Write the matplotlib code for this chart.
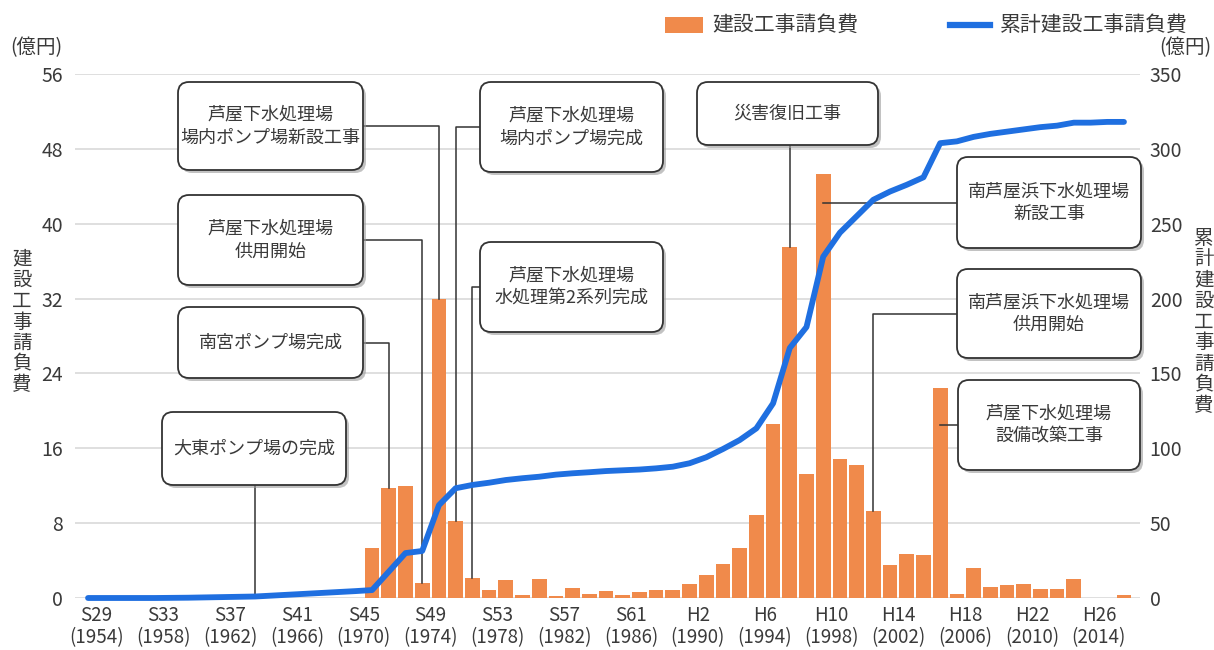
import matplotlib.pyplot as plt
from matplotlib.patches import FancyBboxPatch, Rectangle
from matplotlib.lines import Line2D
from matplotlib.transforms import IdentityTransform

plt.rcParams['font.family'] = ['Noto Sans CJK JP', 'DejaVu Sans']

# 年度 (S28=1953 〜 H27=2015)
years = list(range(1953, 2016))

# 建設工事請負費 (億円)
spend = [0, 0, 0, 0, 0, 0, 0, 0, 0, 0, 0, 0, 0, 0, 0, 0, 0,
         5.3, 11.8, 12.0, 1.6, 32.0, 8.2, 2.1, 0.9, 1.9, 0.35,
         2.0, 0.25, 1.1, 0.45, 0.75, 0.35, 0.6, 0.9, 0.9, 1.5,
         2.5, 3.6, 5.3, 8.9, 18.6, 37.5, 13.3, 45.3, 14.9, 14.2,
         9.3, 3.5, 4.7, 4.6, 22.4, 0.45, 3.2, 1.2, 1.4, 1.5,
         1.0, 1.0, 2.0, 0, 0, 0.35]

# 累計建設工事請負費 (億円)
cumulative = [0, 0, 0, 0, 0, 0.1, 0.2, 0.4, 0.6, 0.8, 1.0, 1.6, 2.2, 2.8, 3.4, 4.0, 4.6,
              5.3, 17.6, 30.0, 31.4, 62.0, 73.3, 75.5, 77.0, 78.8, 80.0,
              81.0, 82.4, 83.3, 84.0, 84.8, 85.3, 85.8, 86.6, 87.7, 90.0,
              94.0, 99.5, 105.5, 113.3, 130.0, 167.0, 181.0, 228.0, 244.0, 255.0,
              266.0, 271.5, 276.0, 281.0, 303.8, 305.0, 308.0, 310.0, 311.5, 313.0,
              314.5, 315.5, 317.5, 317.5, 318.0, 318.0]

tick_years = list(range(1954, 2015, 4))
tick_labels = ['S29\n(1954)', 'S33\n(1958)', 'S37\n(1962)', 'S41\n(1966)',
               'S45\n(1970)', 'S49\n(1974)', 'S53\n(1978)', 'S57\n(1982)',
               'S61\n(1986)', 'H2\n(1990)', 'H6\n(1994)', 'H10\n(1998)',
               'H14\n(2002)', 'H18\n(2006)', 'H22\n(2010)', 'H26\n(2014)']

# 出来事 (テキスト, 年度, 対象)
note_texts = ['芦屋下水処理場\n場内ポンプ場新設工事', '芦屋下水処理場\n供用開始', '南宮ポンプ場完成',
              '芦屋下水処理場\n場内ポンプ場完成', '芦屋下水処理場\n水処理第2系列完成', '大東ポンプ場の完成',
              '災害復旧工事', '南芦屋浜下水処理場\n新設工事', '南芦屋浜下水処理場\n供用開始',
              '芦屋下水処理場\n設備改築工事']
note_years = [1974, 1973, 1971, 1975, 1976, 1963, 1995, 1997, 2000, 2004]
note_target = ['bar', 'bar', 'bar', 'bar', 'bar', 'line', 'bar', 'barside', 'bar', 'barside']

# 吹き出しの位置 (画像ピクセル: 左, 上, 右, 下) と引出線の出る辺
box_pos = [(178, 82, 363, 170), (178, 195, 363, 285), (178, 307, 363, 378),
           (480, 82, 663, 172), (480, 242, 663, 332), (162, 412, 346, 485),
           (697, 82, 878, 145), (957, 157, 1141, 248), (957, 269, 1141, 358),
           (958, 380, 1140, 470)]
box_exit = ['right', 'right', 'right', 'left', 'left', 'bottom', 'bottom', 'left', 'left', 'left']

W, H = 1214, 650
bar_color = '#f08a4b'
line_color = '#1f6fe0'
text_color = '#3a3a3a'

fig = plt.figure(figsize=(W / 100, H / 100), dpi=100)
ax = fig.add_axes([75 / W, 1 - 598 / H, 1065 / W, 524 / H])
ax.bar(years, spend, width=0.88, color=bar_color, zorder=2)
ax.set_xlim(1952.22, 2015.96)
ax.set_ylim(0, 56)
ax.set_yticks(range(0, 57, 8))
ax.set_xticks([y - 0.5 for y in tick_years])
ax.set_xticklabels(tick_labels, linespacing=1.05)
ax.grid(axis='y', color='#dcdcdc', lw=1.3)
ax.set_axisbelow(True)
ax.tick_params(axis='y', length=0, pad=8.5, labelsize=14, labelcolor=text_color)
ax.tick_params(axis='x', length=0, pad=5, labelsize=13.5, labelcolor=text_color)
for s in ax.spines.values():
    s.set_visible(False)

ax2 = ax.twinx()
ax2.plot(years, cumulative, color=line_color, lw=4.2, solid_capstyle='round', zorder=3, clip_on=False)
ax2.set_ylim(0, 350)
ax2.set_yticks(range(0, 351, 50))
ax2.tick_params(axis='y', length=0, pad=7, labelsize=14, labelcolor=text_color)
for s in ax2.spines.values():
    s.set_visible(False)

ident = IdentityTransform()


def px(x, y):
    # 上から測ったピクセル -> 表示座標
    return x, H - y


def data_px(axis, x, y):
    d = axis.transData.transform((x, y))
    return d[0], H - d[1]


# 引出線
for i, yr in enumerate(note_years):
    x0, y0, x1, y1 = box_pos[i]
    idx = years.index(yr)
    if note_target[i] == 'line':
        tx, ty = data_px(ax2, yr, cumulative[idx])
    else:
        tx, ty = data_px(ax, yr, spend[idx])
    if box_exit[i] == 'bottom':
        pts = [(tx, y1), (tx, ty)]
    else:
        ey = (y0 + y1) / 2
        ex = x1 if box_exit[i] == 'right' else x0
        if note_target[i] == 'barside':
            pts = [(ex, ey), (tx, ey)]
        else:
            pts = [(ex, ey), (tx, ey), (tx, ty)]
    xs = [p[0] for p in pts]
    ys = [H - p[1] for p in pts]
    ax.add_line(Line2D(xs, ys, transform=ident, color='#333333', lw=1.1, zorder=4, clip_on=False))

# 吹き出し
for i, txt in enumerate(note_texts):
    x0, y0, x1, y1 = box_pos[i]
    shadow = FancyBboxPatch((x0 + 3, H - y1 - 3), x1 - x0, y1 - y0,
                            boxstyle='round,pad=0,rounding_size=11', transform=ident,
                            facecolor='#9a9a9a', edgecolor='none', alpha=0.6, zorder=5)
    box = FancyBboxPatch((x0, H - y1), x1 - x0, y1 - y0,
                         boxstyle='round,pad=0,rounding_size=11', transform=ident,
                         facecolor='white', edgecolor='#333333', lw=1.3, zorder=6)
    fig.add_artist(shadow)
    fig.add_artist(box)
    cx, cy = px((x0 + x1) / 2, (y0 + y1) / 2)
    fig.text(cx, cy, txt, transform=ident, ha='center', va='center', fontsize=13,
             color=text_color, linespacing=1.35, zorder=7)

# 単位と軸タイトル
fig.text(*px(36, 48), '(億円)', transform=ident, ha='center', va='center', fontsize=14, color=text_color)
fig.text(*px(1185, 48), '(億円)', transform=ident, ha='center', va='center', fontsize=14, color=text_color)
fig.text(*px(22, 322), '\n'.join('建設工事請負費'), transform=ident, ha='center', va='center',
         fontsize=14, color=text_color, linespacing=1.0)
fig.text(*px(1204, 322), '\n'.join('累計建設工事請負費'), transform=ident, ha='center', va='center',
         fontsize=14, color=text_color, linespacing=1.0)

# 凡例
fig.add_artist(Rectangle(px(665, 33), 38, 16, transform=ident, facecolor=bar_color, edgecolor='none'))
fig.text(*px(712, 25), '建設工事請負費', transform=ident, ha='left', va='center', fontsize=15, color=text_color)
fig.add_artist(Line2D([950, 990], [H - 25, H - 25], transform=ident, color=line_color, lw=4.5))
fig.text(*px(1000, 25), '累計建設工事請負費', transform=ident, ha='left', va='center', fontsize=15, color=text_color)

fig.savefig('out.png', dpi=100)
